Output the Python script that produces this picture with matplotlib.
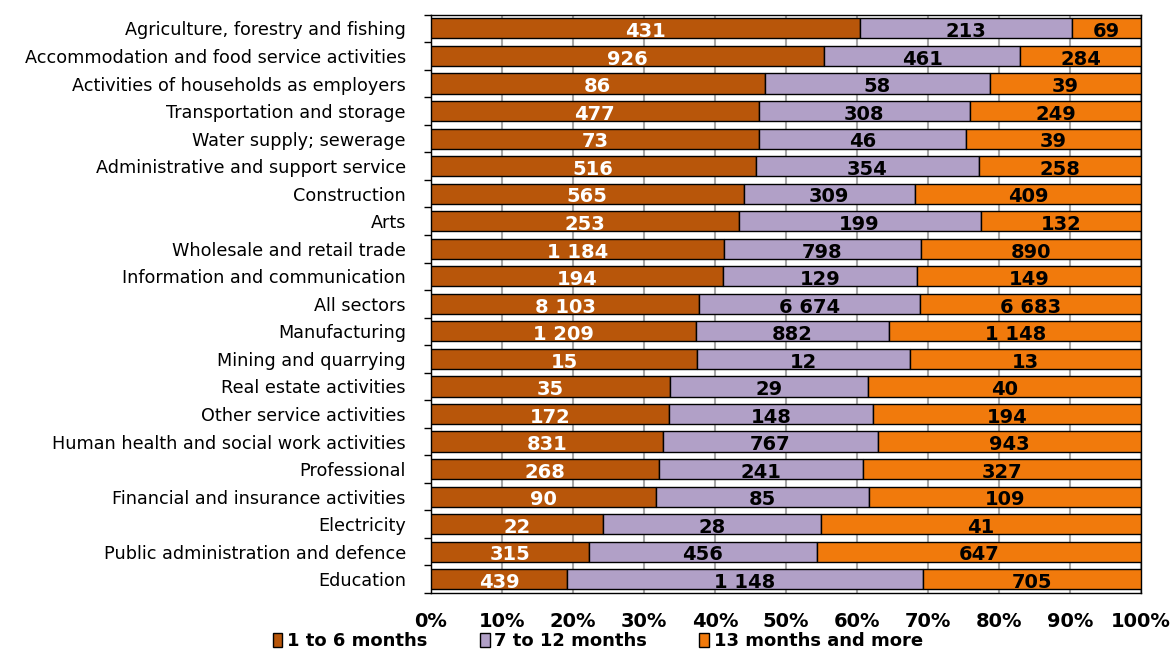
import numpy as np
import matplotlib
matplotlib.use("Agg")
import matplotlib.pyplot as plt
from matplotlib.ticker import FixedLocator, PercentFormatter

sectors = [
    "Agriculture, forestry and fishing",
    "Accommodation and food service activities",
    "Activities of households as employers",
    "Transportation and storage",
    "Water supply; sewerage",
    "Administrative and support service",
    "Construction",
    "Arts",
    "Wholesale and retail trade",
    "Information and communication",
    "All sectors",
    "Manufacturing",
    "Mining and quarrying",
    "Real estate activities",
    "Other service activities",
    "Human health and social work activities",
    "Professional",
    "Financial and insurance activities",
    "Electricity",
    "Public administration and defence",
    "Education",
]
short_term = [431, 926, 86, 477, 73, 516, 565, 253, 1184, 194, 8103,
              1209, 15, 35, 172, 831, 268, 90, 22, 315, 439]
mid_term = [213, 461, 58, 308, 46, 354, 309, 199, 798, 129, 6674,
            882, 12, 29, 148, 767, 241, 85, 28, 456, 1148]
long_term = [69, 284, 39, 249, 39, 258, 409, 132, 890, 149, 6683,
             1148, 13, 40, 194, 943, 327, 109, 41, 647, 705]
series_names = ["1 to 6 months", "7 to 12 months", "13 months and more"]
colors = ["#B8560A", "#B1A0C7", "#F17A0C"]
text_colors = ["white", "black", "black"]


def fmt(v):
    return f"{v:,}".replace(",", " ")


data = np.array([short_term, mid_term, long_term], dtype=float)
shares = data / data.sum(axis=0) * 100
y = np.arange(len(sectors))

fig = plt.figure(figsize=(11.74, 6.52), dpi=100)
ax = fig.add_axes([0.367, 0.0905, 0.605, 0.887])

left = np.zeros(len(sectors))
for k in range(3):
    ax.barh(y, shares[k], left=left, height=0.73, color=colors[k],
            edgecolor="black", linewidth=1, label=series_names[k], zorder=3)
    for i in range(len(sectors)):
        ax.text(left[i] + shares[k][i] / 2, y[i] + 0.12, fmt(int(data[k][i])),
                ha="center", va="center", fontsize=14, fontweight="bold",
                color=text_colors[k], zorder=4)
    left += shares[k]

ax.set_xlim(0, 100)
ax.set_ylim(len(sectors) - 0.5, -0.5)
ax.set_xticks(np.arange(0, 101, 10))
ax.xaxis.set_major_formatter(PercentFormatter(decimals=0))
ax.tick_params(axis="x", length=0, pad=14, labelsize=14)
for lab in ax.get_xticklabels():
    lab.set_fontweight("bold")
ax.grid(axis="x", color="#A6A6A6", linewidth=1.5, zorder=0)

ax.set_yticks(y)
ax.set_yticklabels(sectors, fontsize=12.7)
ax.yaxis.set_minor_locator(FixedLocator(np.arange(-0.5, len(sectors), 1)))
ax.tick_params(axis="y", which="major", length=0, pad=18)
ax.tick_params(axis="y", which="minor", length=5, width=1, color="black")

for s in ax.spines.values():
    s.set_color("black")
    s.set_linewidth(1)

leg = ax.legend(loc="center", bbox_to_anchor=(0.235, -0.083), ncol=3,
                frameon=False, handlelength=0.55, handleheight=0.8,
                handletextpad=0.25, columnspacing=2.9,
                prop={"weight": "bold", "size": 13})
for h in leg.legend_handles:
    h.set_edgecolor("black")
    h.set_linewidth(1)

fig.savefig("out.png", dpi=100)
